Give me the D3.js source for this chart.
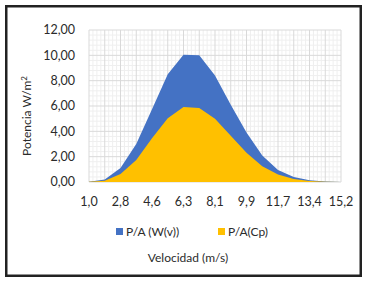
<html>
  <head>
    <script src="https://d3js.org/d3.v7.min.js"></script>
    <style>
      body { margin: 0; background: #fff; }
      text { font-family: Lato, "Open Sans", sans-serif; fill: #2b2b2b; }
      .major { stroke: #d9d9d9; stroke-width: 1px; }
      .minor { stroke: #efefef; stroke-width: 1px; }
    </style>
  </head>
  <body>
    <svg id="chart" width="370" height="282"></svg>
    <script>
      // wind speed categories (m/s)
      const velocidad = [1.0, 1.9, 2.8, 3.7, 4.6, 5.4, 6.3, 7.2, 8.1, 9.0, 9.9, 10.8, 11.7, 12.5, 13.4, 14.3, 15.2];
      // P/A (W(v)) in W/m2
      const potenciaW = [0.02, 0.2, 1.1, 3.0, 5.75, 8.5, 10.05, 10.0, 8.4, 6.1, 3.9, 2.1, 0.95, 0.4, 0.13, 0.03, 0.0];
      // P/A(Cp) in W/m2
      const potenciaCp = [0.01, 0.1, 0.63, 1.74, 3.45, 5.03, 5.92, 5.85, 5.0, 3.65, 2.3, 1.25, 0.6, 0.24, 0.08, 0.02, 0.0];
      const yTicks = [0, 2, 4, 6, 8, 10, 12];
      const seriesNames = ["P/A (W(v))", "P/A(Cp)"];
      const seriesColors = ["#4472C4", "#FFC000"];

      const svg = d3.select("#chart");
      const margin = { top: 30, right: 29, bottom: 100, left: 89 };
      const width = 370 - margin.left - margin.right;
      const height = 282 - margin.top - margin.bottom;

      const comma = (s) => s.replace(".", ",");

      const x = d3.scalePoint().domain(velocidad).range([0, width]);
      const y = d3.scaleLinear().domain([0, 12]).range([height, 0]);

      const plot = svg
        .append("g")
        .attr("transform", "translate(" + margin.left + "," + margin.top + ")");

      // minor grid
      const step = x.step();
      const minorX = [];
      for (let i = 0; i < velocidad.length - 1; i++) {
        for (let j = 1; j < 4; j++) minorX.push(x(velocidad[i]) + (step * j) / 4);
      }
      plot.selectAll("line.mx").data(minorX).join("line")
        .attr("class", "minor")
        .attr("x1", (d) => d).attr("x2", (d) => d)
        .attr("y1", 0).attr("y2", height);
      const minorY = d3.range(0, 12.01, 0.4).filter((d) => Math.abs(d / 2 - Math.round(d / 2)) > 0.01);
      plot.selectAll("line.my").data(minorY).join("line")
        .attr("class", "minor")
        .attr("x1", 0).attr("x2", width)
        .attr("y1", (d) => y(d)).attr("y2", (d) => y(d));

      // major grid
      plot.selectAll("line.gx").data(velocidad).join("line")
        .attr("class", "major")
        .attr("x1", (d) => x(d)).attr("x2", (d) => x(d))
        .attr("y1", 0).attr("y2", height);
      plot.selectAll("line.gy").data(yTicks).join("line")
        .attr("class", "major")
        .attr("x1", 0).attr("x2", width)
        .attr("y1", (d) => y(d)).attr("y2", (d) => y(d));

      // areas, first series behind the second
      const area = d3.area()
        .x((d, i) => x(velocidad[i]))
        .y0(y(0))
        .y1((d) => y(d));
      [potenciaW, potenciaCp].forEach((s, k) => {
        plot.append("path").datum(s)
          .attr("fill", seriesColors[k])
          .attr("d", area);
      });

      // y tick labels
      plot.selectAll("text.yl").data(yTicks).join("text")
        .attr("x", -14)
        .attr("y", (d) => y(d))
        .attr("dy", "0.35em")
        .attr("text-anchor", "end")
        .attr("font-size", 12.5)
        .text((d) => comma(d3.format(".2f")(d)));

      // x tick labels, every second category
      plot.selectAll("text.xl").data(velocidad.filter((d, i) => i % 2 === 0)).join("text")
        .attr("x", (d) => x(d))
        .attr("y", height + 24)
        .attr("text-anchor", "middle")
        .attr("font-size", 12.5)
        .text((d) => comma(d3.format(".1f")(d)));

      // legend
      const legendX = [116, 218];
      seriesNames.forEach((name, k) => {
        svg.append("rect")
          .attr("x", legendX[k]).attr("y", 228)
          .attr("width", 7).attr("height", 7)
          .attr("fill", seriesColors[k]);
        svg.append("text")
          .attr("x", legendX[k] + 10).attr("y", 236)
          .attr("font-size", 12)
          .text(name);
      });

      // axis titles
      svg.append("text")
        .attr("x", 188).attr("y", 262)
        .attr("text-anchor", "middle")
        .attr("font-size", 12)
        .text("Velocidad (m/s)");
      const yt = svg.append("text")
        .attr("transform", "translate(31,116) rotate(-90)")
        .attr("text-anchor", "middle")
        .attr("font-size", 12);
      yt.append("tspan").text("Potencia W/m");
      yt.append("tspan").attr("dy", -4).attr("font-size", 8).text("2");

      // outer frame
      svg.append("rect")
        .attr("x", 6.25).attr("y", 6.25)
        .attr("width", 354.5).attr("height", 269.5)
        .attr("fill", "none")
        .attr("stroke", "#222")
        .attr("stroke-width", 2.5);
    </script>
  </body>
</html>
